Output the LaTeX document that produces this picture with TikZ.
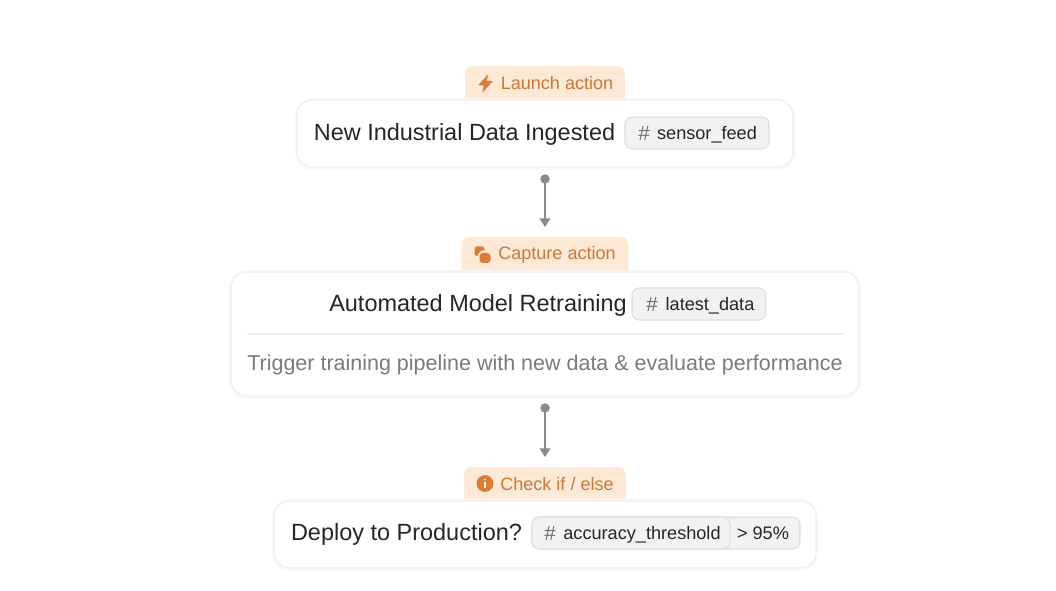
\documentclass[tikz,border=0pt]{standalone}
\usepackage{fontspec}
\setmainfont{Liberation Sans}
\usetikzlibrary{arrows.meta,positioning,calc}
\definecolor{tabfill}{HTML}{FEE9D6}
\definecolor{tabtext}{HTML}{C9783A}
\definecolor{iconc}{HTML}{DD7A33}
\definecolor{cardline}{HTML}{EFEFEF}
\definecolor{cardshadow}{HTML}{F8F8F8}
\definecolor{chipfill}{HTML}{F2F2F1}
\definecolor{chipline}{HTML}{DEDEDC}
\definecolor{ink}{HTML}{262626}
\definecolor{subtle}{HTML}{7B7B7B}
\definecolor{hashc}{HTML}{6F6F6F}
\definecolor{flowc}{HTML}{8A8A8A}
\tikzset{
  x=0.75pt,y=-0.75pt,
  boxed/.style={anchor=center,inner sep=0pt,outer sep=0pt},
  tabshape/.style={rectangle,fill=tabfill,rounded corners=6pt,boxed},
  cardshape/.style={rectangle,fill=white,draw=cardline,line width=0.8pt,rounded corners=12pt,boxed},
  halo/.style={rectangle,draw=cardshadow,line width=1.6pt,rounded corners=13pt,boxed},
  chipshape/.style={rectangle,fill=chipfill,draw=chipline,line width=0.8pt,rounded corners=5.5pt,boxed},
  tabtxt/.style={boxed,text=tabtext,font=\fontsize{13.55pt}{15pt}\selectfont},
  titletxt/.style={boxed,text=ink,font=\fontsize{17.6pt}{20pt}\selectfont},
  chiptxt/.style={boxed,text=ink,font=\fontsize{13.6pt}{15pt}\selectfont},
  hashtxt/.style={boxed,text=hashc,font=\fontsize{15.5pt}{15pt}\selectfont},
  subtxt/.style={boxed,text=subtle,font=\fontsize{16.12pt}{20pt}\selectfont},
  flow/.style={draw=flowc,line width=1.5pt,{Circle[length=7pt,width=7pt]}-{Triangle[length=6.5pt,width=8pt]},shorten <=5.5pt,shorten >=7.5pt},
}
\newcommand{\boxat}[6]{% style,name,x0,y0,x1,y1
  \node[#1,minimum width=#5*0.75pt-#3*0.75pt,minimum height=#6*0.75pt-#4*0.75pt] (#2) at ({(#3+#5)/2},{(#4+#6)/2}) {};}
\begin{document}
\begin{tikzpicture}
\useasboundingbox (0,0) rectangle (1056,591);
\fill[white] (0,0) rectangle (1056,591);
% tabs
\boxat{tabshape}{tabA}{465}{66}{625}{120}
\boxat{tabshape}{tabB}{461.5}{237}{628.5}{290}
\boxat{tabshape}{tabC}{464}{467}{626}{520}
% halos
\boxat{halo}{haloA}{296}{99}{794}{169}
\boxat{halo}{haloB}{230}{271}{860}{398}
\boxat{halo}{haloC}{273}{500}{817}{570}
% cards
\boxat{cardshape}{cardA}{297}{100}{793}{167}
\boxat{cardshape}{cardB}{231}{272}{859}{396}
\boxat{cardshape}{cardC}{274}{501}{816}{568}
% chips
\boxat{chipshape}{chipA}{625}{117}{769}{149}
\boxat{chipshape}{chipB}{632}{288}{766}{320}
\boxat{chipshape}{chipC}{532}{517}{800}{549}
\boxat{chipshape}{chipCi}{532}{517}{730}{549}
% divider
\coordinate (divL) at (247,334);
\coordinate (divR) at (843,334);
\draw[cardline,line width=0.9pt] (divL) -- (divR);
% tab labels
\node[tabtxt] (labA) at (557,83.5) {Launch action};
\node[tabtxt] (labB) at (557,254.5) {Capture action};
\node[tabtxt] (labC) at (557,484) {Check if / else};
% icons
\fill[iconc,rounded corners=0.7pt] (488.5,74) -- (478,85.5) -- (484,85.5) -- (482,93) -- (493,81) -- (486.5,81) -- cycle;
\fill[iconc,rounded corners=2pt] (474.5,246.5) rectangle (484.5,256);
\fill[tabfill] (484,256.5) circle[radius=6.2];
\fill[iconc,rounded corners=2.5pt] (479.5,253) rectangle (490.5,263);
\fill[iconc] (485,483.5) circle[radius=8.4];
\fill[white] (485,479.6) circle[radius=1];
\fill[white] (484.2,482.3) rectangle (485.8,488);
% titles
\node[titletxt] (tA) at (464.5,134) {New Industrial Data Ingested};
\node[titletxt] (tB) at (478,305) {Automated Model Retraining};
\node[titletxt] (tC) at (406.5,534) {Deploy to Production?};
\node[subtxt] (sB) at (545,365) {Trigger training pipeline with new data \& evaluate performance};
% chip text
\node[hashtxt] (hA) at (644,133.5) {\#};
\node[chiptxt] (cA) at (707,134.5) {sensor\_feed};
\node[hashtxt] (hB) at (652,304.5) {\#};
\node[chiptxt] (cB) at (710,305.5) {latest\_data};
\node[hashtxt] (hC) at (550,533.5) {\#};
\node[chiptxt] (cC) at (642,534.5) {accuracy\_threshold};
\node[chiptxt] (cD) at (763,533.5) {> 95\%};
% connectors
\draw[flow] (cardA.south) -- (tabB.north);
\draw[flow] (cardB.south) -- (tabC.north);
\end{tikzpicture}
\end{document}
